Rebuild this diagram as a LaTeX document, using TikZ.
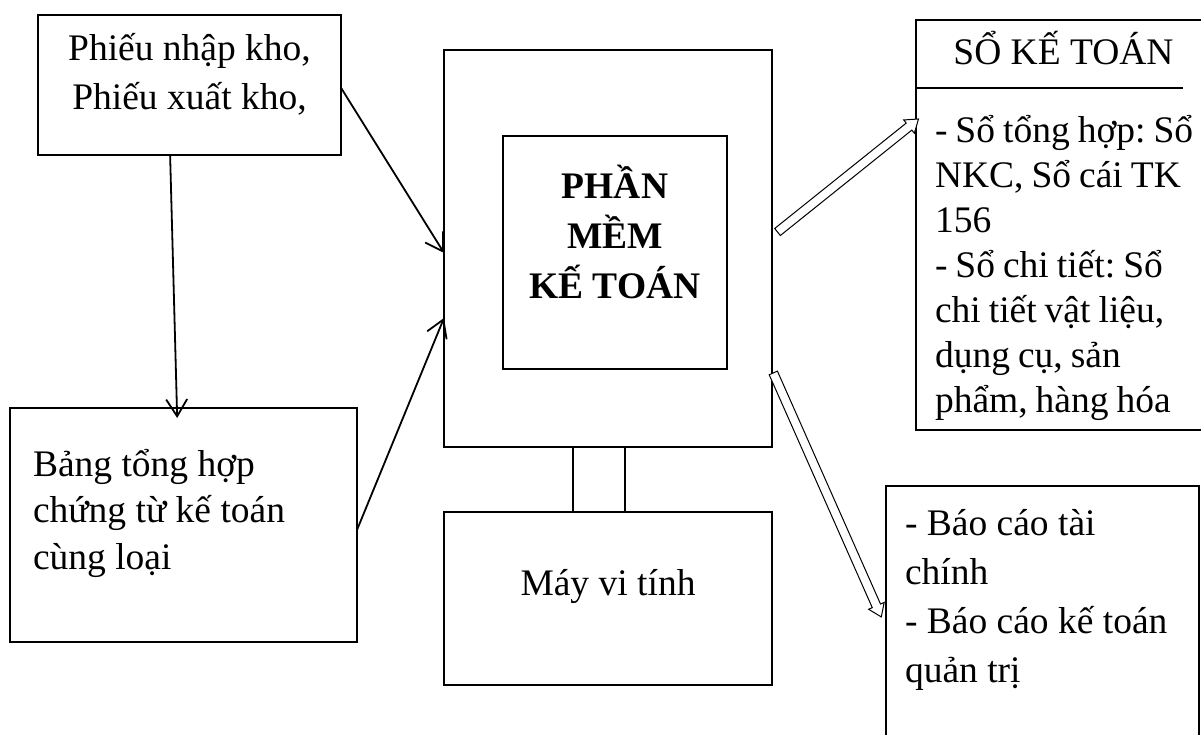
\documentclass[tikz,border=0pt]{standalone}
\usepackage{fontspec}
\setmainfont{Liberation Serif}
\usetikzlibrary{arrows.meta,shapes.arrows,calc}
\frenchspacing
% rows of text, first baseline on the node's base anchor
\newcommand\txtrows[3]{{\fontsize{37.5}{#2}\selectfont\begin{tabular}[t]{@{}#1@{}}#3\end{tabular}}}

\begin{document}
\begin{tikzpicture}[x=1pt,y=-1pt,
  box/.style={draw, line width=1.2pt, inner sep=0, outer sep=0},
  txt/.style={inner sep=0, outer sep=0},
  flow/.style={line width=1.8pt, -{Straight Barb[length=17pt,width=21pt]}},
  link/.style={line width=2pt},
  hollow/.style={draw, line width=1pt, fill=white, single arrow, inner xsep=0pt,
    inner ysep=4pt, text height=0pt, text depth=0pt,
    single arrow head extend=4pt, single arrow tip angle=70}
]
\useasboundingbox (0,0) rectangle (1201,735);
\clip (0,0) rectangle (1201,735);

% boxes
\node[box, minimum width=303, minimum height=140] (phieu) at (189.5,85) {};
\node[box, minimum width=347, minimum height=234] (bang) at (183.5,525) {};
\node[box, minimum width=328, minimum height=397] (main) at (608,248.5) {};
\node[box, minimum width=224, minimum height=233] (core) at (615,252.5) {};
\node[box, minimum width=328, minimum height=173] (pc) at (608,598.5) {};
\node[box, minimum width=300, minimum height=410] (so) at (1066,225) {};
\node[box, minimum width=313, minimum height=274] (report) at (1042.5,623) {};
\draw[line width=1.2pt] (so.west |- 0,88) -- (1183,88);

% texts
\node[txt, anchor=base] (tphieu) at (189.5,61) {\txtrows{c}{49}{Phiếu nhập kho,\\Phiếu xuất kho,}};
\node[txt, anchor=base west] (tbang) at (33,476) {\txtrows{l}{46.5}{Bảng tổng hợp\\chứng từ kế toán\\cùng loại}};
\node[txt, anchor=base] (tcore) at (615,199) {\bfseries\txtrows{c}{50}{PHẦN\\MỀM\\KẾ TOÁN}};
\node[txt, anchor=base] (tpc) at (608,595) {\txtrows{c}{40}{Máy vi tính}};
\node[txt, anchor=base] (tso) at (1063.5,65) {\txtrows{c}{40}{SỔ KẾ TOÁN}};
\node[txt, anchor=base west] (tsolist) at (935,143) {\spaceskip=8pt\txtrows{l}{45}{- Sổ tổng hợp: Sổ\\NKC, Sổ cái TK\\156\\- Sổ chi tiết: Sổ\\chi tiết vật liệu,\\dụng cụ, sản\\phẩm, hàng hóa}};
\node[txt, anchor=base west] (trep) at (905,535) {\txtrows{l}{49}{- Báo cáo tài\\chính\\- Báo cáo kế toán\\quản trị}};

% flows into the software
\draw[flow] ($(phieu.north east)!0.52!(phieu.south east)$) -- ($(main.north west)!0.511!(main.south west)$);
\draw[flow] ($(bang.north east)!0.521!(bang.south east)$) -- ($(main.north west)!0.675!(main.south west)$);
\draw[flow, shorten >=-10pt] ($(phieu.south west)!0.436!(phieu.south east)$) -- ($(bang.north west)!0.481!(bang.north east)$);

% computer link
\draw[link] (main.south -| 573,0) -- (pc.north -| 573,0);
\draw[link] (main.south -| 625,0) -- (pc.north -| 625,0);

% outputs (hollow arrows)
\coordinate (h1s) at ($(main.east |- 0,234)+(3,0)$);
\coordinate (h1e) at (so.west |- 0,121);
\coordinate (h2s) at (main.east |- 0,370);
\coordinate (h2e) at ($(report.west |- 0,614)+(-6,0)$);
\path let \p1=($(h1e)-(h1s)$), \n1={veclen(\x1,\y1)} in
  (h1s) -- (h1e) node[midway, sloped, hollow, minimum height=\n1] (out1) {};
\path let \p1=($(h2e)-(h2s)$), \n1={veclen(\x1,\y1)} in
  (h2s) -- (h2e) node[midway, sloped, hollow, minimum height=\n1] (out2) {};
\end{tikzpicture}
\end{document}
